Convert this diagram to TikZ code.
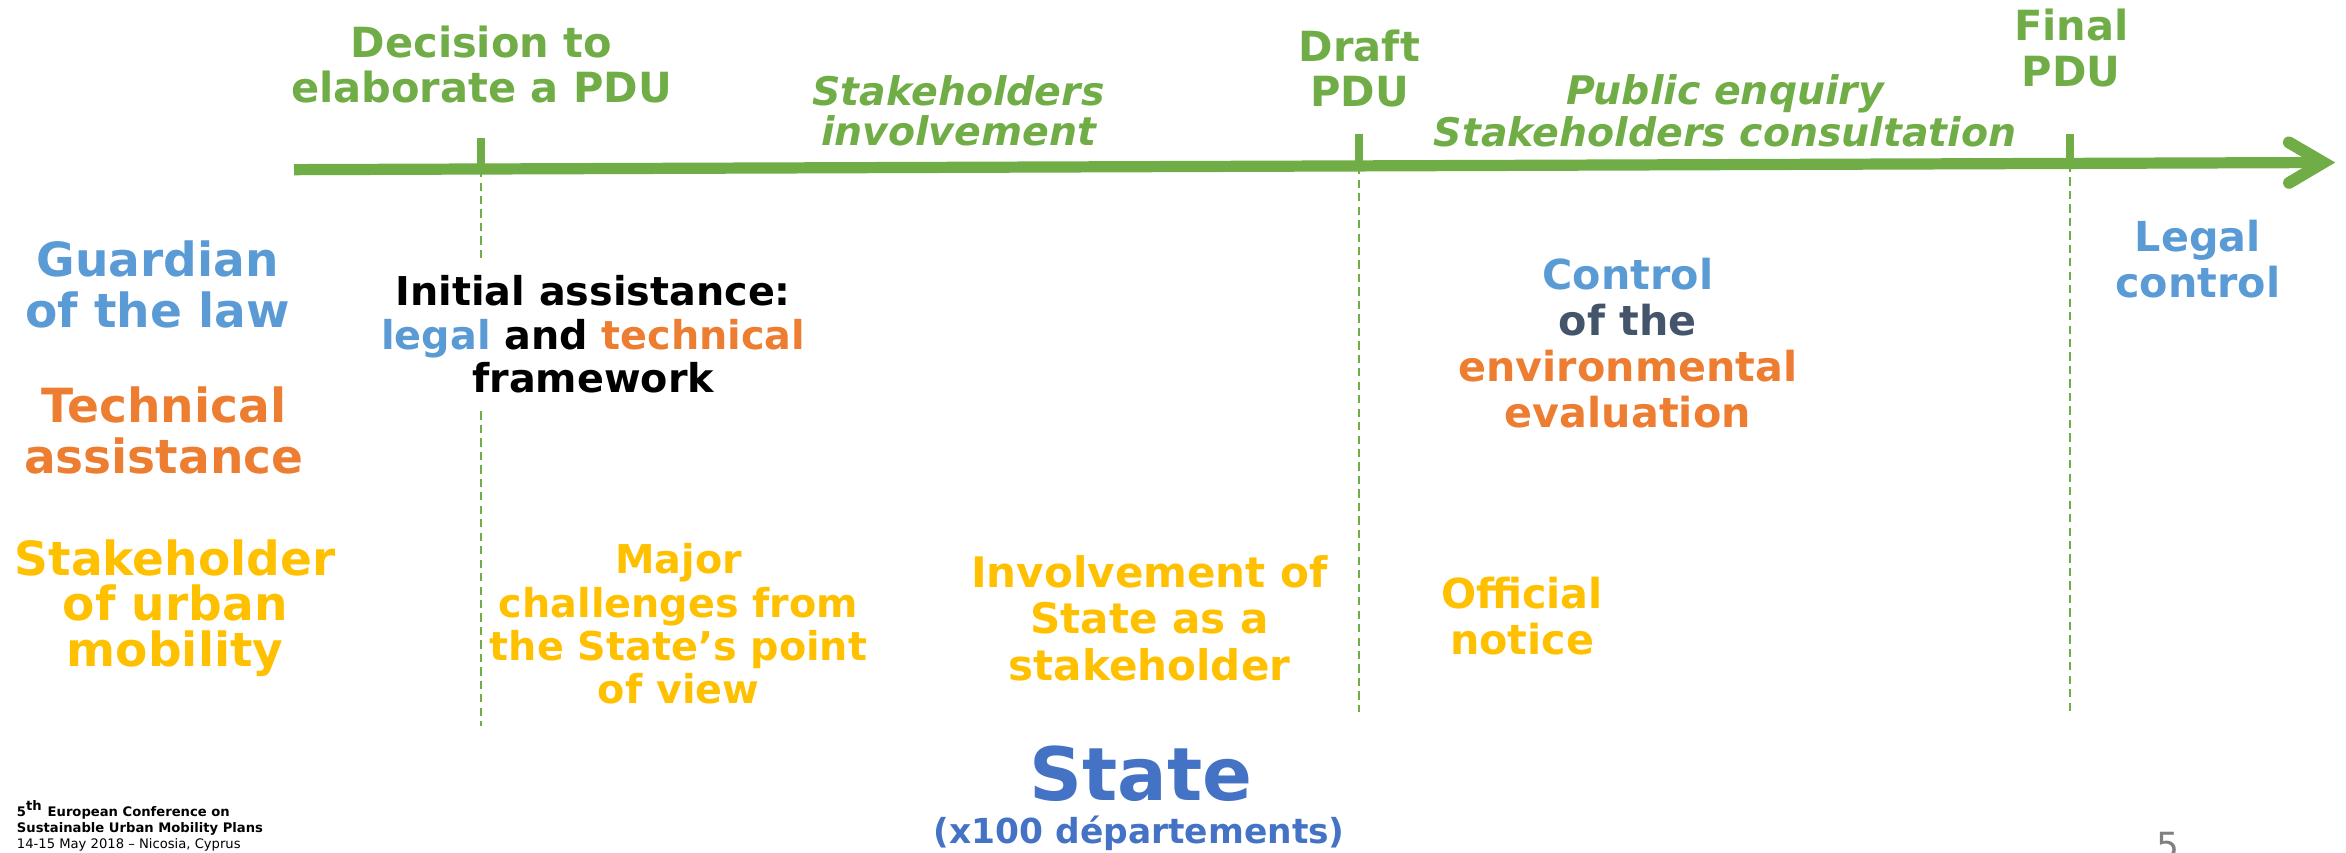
\documentclass[tikz,border=0pt]{standalone}
\usepackage{fontspec}
\setmainfont{DejaVu Sans}
\usepackage{xcolor}
\usetikzlibrary{arrows.meta}
\definecolor{pdugreen}{HTML}{70AD47}
\definecolor{lawblue}{HTML}{5B9BD5}
\definecolor{techorange}{HTML}{ED7D31}
\definecolor{stakeyellow}{HTML}{FFC000}
\definecolor{stateblue}{HTML}{4472C4}
\definecolor{slate}{HTML}{44546A}
\newcommand{\fsz}[2]{\fontsize{#1}{#2}\selectfont}

\begin{document}
\begin{tikzpicture}[x=0.2mm, y=-0.2mm,
every node/.style={align=center, inner sep=0pt, anchor=base},
stage/.style={text=pdugreen, font=\bfseries\fsz{15.8}{17.2}},
phase/.style={text=pdugreen, font=\bfseries\itshape\fsz{15}{#1}},
role/.style={font=\bfseries\fsz{17.9}{#1}},
task/.style={font=\bfseries\fsz{15.7}{17.5}},
milestone/.style={draw=pdugreen, line width=1mm},
guide/.style={draw=pdugreen, line width=0.22mm, dash pattern=on 1.1mm off 0.7mm}]
\useasboundingbox (0,0) rectangle (1568,570);

\foreach \i/\x/\y/\t/\e in {1/321.5/113/92/485, 2/908.3/111.1/89.8/476, 3/1383.5/109.6/89.8/476}{
  \coordinate (m\i) at (\x,\y);
  \coordinate (m\i top) at (\x,\t);
  \coordinate (m\i end) at (\x,\e);
}
\coordinate (t0) at (196.5,113.4);
\coordinate (t1) at (1560.8,108.6);

\foreach \i in {1,2,3} \draw[guide] (m\i) -- (m\i end);
\draw[pdugreen, line width=1.5mm,
  -{Straight Barb[length=4.6mm, width=5.4mm, line width=1.6mm, line cap=round, line join=miter]}] (t0) -- (t1);
\foreach \i in {1,2,3} \draw[milestone] (m\i) -- (m\i top);

\node[stage] (dec) at (321.8,68.6) {Decision to\\elaborate a PDU};
\node[phase=15] (inv) at (640.7,97.1) {Stakeholders\\involvement};
\node[stage] (draft) at (908.6,71.3) {Draft\\PDU};
\node[phase=13.7] (cons) at (1153,97.6) {Public enquiry\\Stakeholders consultation};
\node[stage] (final) at (1384.4,57.5) {Final\\PDU};

\node[role=19.5, text=lawblue] (law) at (105.4,218.8) {Guardian\\of the law};
\node[role=19.3, text=techorange] (tech) at (109.5,316.4) {Technical\\assistance};
\node[role=17.4, text=stakeyellow] (urb) at (117.1,445.6) {Stakeholder\\of urban\\mobility};

\node[font=\bfseries\fsz{15.1}{16.5}, fill=white, inner xsep=1mm, inner ysep=2.2mm] (init) at (396.5,262.5)
  {Initial assistance:\\\textcolor{lawblue}{legal} and \textcolor{techorange}{technical}\\framework};
\node[font=\bfseries\fsz{15.1}{16.4}, text=stakeyellow] (maj) at (453.5,470.1)
  {Major\\challenges from\\the State’s point\\of view};
\node[font=\bfseries\fsz{16}{17.6}, text=stakeyellow] (sta) at (768.3,454.5)
  {Involvement of\\State as a\\stakeholder};
\node[task] (env) at (1088,285.8)
  {\textcolor{lawblue}{Control}\\\textcolor{slate}{of the}\\\textcolor{techorange}{environmental}\\\textcolor{techorange}{evaluation}};
\node[task, text=stakeyellow] (off) at (1017.3,437.2) {Official\\notice};
\node[task, text=lawblue] (leg) at (1469,199) {Legal\\control};

\node[text=stateblue, font=\bfseries\fsz{28}{30}] (state) at (762.8,534.7) {State};
\node[text=stateblue, font=\bfseries\fsz{13.1}{15}] (dep) at (761.4,563.7) {(x100 départements)};

\node[anchor=base west, align=left, font=\fsz{5}{6.1}] (conf) at (11,567)
  {\textbf{5\textsuperscript{th} European Conference on}\\\textbf{Sustainable Urban Mobility Plans}\\14-15 May 2018 – Nicosia, Cyprus};
\node[anchor=north, text=black!50, font=\fsz{13.7}{15}] (page) at (1449,556) {5};
\end{tikzpicture}
\end{document}
